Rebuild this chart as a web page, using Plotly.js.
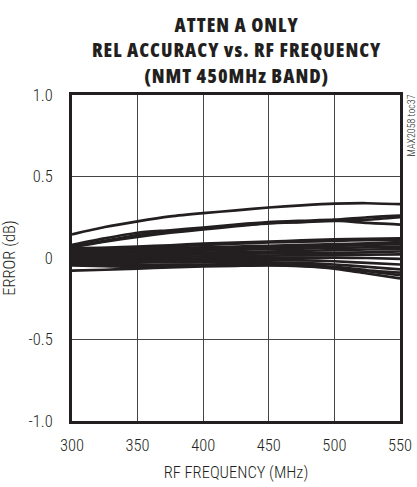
<!DOCTYPE html>
<html>
<head>
<meta charset="utf-8">
<script src="https://cdn.plot.ly/plotly-3.0.1.min.js"></script>
<style>html,body{margin:0;padding:0;background:#fff;}#chart{width:417px;height:487px;}
#chart text{font-stretch:condensed;}
#chart .annotation[data-index="0"] text{letter-spacing:1px;}</style>
</head>
<body>
<div id="chart"></div>
<script>
const freq = [300, 325, 350, 375, 400, 425, 450, 475, 500, 525, 550];

const top1 = [0.145, 0.19, 0.225, 0.255, 0.275, 0.292, 0.31, 0.323, 0.333, 0.336, 0.33];
const top2 = [0.08, 0.12, 0.155, 0.17, 0.187, 0.205, 0.22, 0.228, 0.235, 0.25, 0.26];
const top3 = [0.07, 0.105, 0.14, 0.16, 0.18, 0.2, 0.215, 0.222, 0.23, 0.215, 0.205];
const top4 = [0.065, 0.1, 0.13, 0.155, 0.175, 0.195, 0.212, 0.22, 0.228, 0.235, 0.25];
const mid1 = [0.06, 0.063, 0.07, 0.078, 0.088, 0.095, 0.1, 0.108, 0.115, 0.118, 0.12];
const mid2 = [0.055, 0.06, 0.065, 0.072, 0.08, 0.088, 0.095, 0.1, 0.105, 0.11, 0.113];
const band1 = [0.05, 0.055, 0.06, 0.062, 0.065, 0.07, 0.075, 0.08, 0.085, 0.09, 0.097];
const band2 = [0.04, 0.045, 0.05, 0.053, 0.056, 0.06, 0.065, 0.07, 0.075, 0.08, 0.085];
const band3 = [0.03, 0.035, 0.038, 0.042, 0.045, 0.05, 0.055, 0.058, 0.062, 0.066, 0.07];
const band4 = [0.02, 0.025, 0.028, 0.03, 0.033, 0.036, 0.04, 0.044, 0.048, 0.052, 0.055];
const band5 = [0.01, 0.013, 0.016, 0.02, 0.022, 0.025, 0.028, 0.03, 0.032, 0.035, 0.04];
const band6 = [0.0, 0.003, 0.005, 0.008, 0.01, 0.012, 0.015, 0.016, 0.018, 0.02, 0.022];
const band7 = [-0.01, -0.008, -0.006, -0.004, -0.002, 0.0, 0.002, 0.003, 0.002, 0.0, -0.005];
const band8 = [-0.02, -0.018, -0.016, -0.015, -0.013, -0.012, -0.012, -0.014, -0.02, -0.03, -0.04];
const band9 = [-0.03, -0.03, -0.028, -0.027, -0.026, -0.025, -0.026, -0.03, -0.04, -0.055, -0.07];
const band10 = [-0.04, -0.042, -0.045, -0.042, -0.04, -0.038, -0.038, -0.042, -0.055, -0.075, -0.09];
const band11 = [-0.045, -0.05, -0.055, -0.05, -0.045, -0.042, -0.042, -0.048, -0.06, -0.08, -0.105];
const low1 = [-0.078, -0.072, -0.065, -0.058, -0.052, -0.048, -0.045, -0.05, -0.065, -0.095, -0.125];

const series = [top1, top2, top3, top4, mid1, mid2, band1, band2, band3, band4, band5, band6,
                band7, band8, band9, band10, band11, low1];

const yTickVals = [-1, -0.5, 0, 0.5, 1];
const yTickText = ['-1.0', '-0.5', '0', '0.5', '1.0'];
const xTickVals = [300, 350, 400, 450, 500, 550];
const titleLines = ['ATTEN A ONLY', 'REL ACCURACY vs. RF FREQUENCY', '(NMT 450MHz BAND)'];

const FONT = '"Roboto Condensed", "Roboto", "DejaVu Sans Condensed", sans-serif';
const TFONT = '"Open Sans", "Roboto Condensed", sans-serif';

const traces = series.map(s => ({
  x: freq, y: s, type: 'scatter', mode: 'lines',
  line: {color: '#231f20', width: 2.7, shape: 'spline', smoothing: 0.6},
  hoverinfo: 'skip', showlegend: false
}));

const layout = {
  width: 417, height: 487,
  margin: {l: 72, r: 17, t: 95, b: 66},
  paper_bgcolor: '#fff', plot_bgcolor: '#fff',
  font: {family: FONT, color: '#231f20', size: 16.5},
  xaxis: {
    range: [300, 550], tickvals: xTickVals, ticks: '', ticklabelstandoff: 7,
    showgrid: true, gridcolor: '#444', gridwidth: 1,
    showline: true, mirror: true, linecolor: '#231f20', linewidth: 3,
    zeroline: false, tickfont: {family: FONT, size: 16.5, weight: 300},
    title: {text: 'RF FREQUENCY (MHz)', font: {family: FONT, size: 16.5, weight: 300}, standoff: 13}
  },
  yaxis: {
    range: [-1, 1], tickvals: yTickVals, ticktext: yTickText, ticks: '', ticklabelstandoff: 13,
    showgrid: true, gridcolor: '#444', gridwidth: 1,
    showline: true, mirror: true, linecolor: '#231f20', linewidth: 3,
    zeroline: true, zerolinecolor: '#231f20', zerolinewidth: 1,
    tickfont: {family: FONT, size: 16.5, weight: 300},
    title: {text: 'ERROR (dB)', font: {family: FONT, size: 16.5, weight: 300}, standoff: 12}
  },
  annotations: [{
    text: titleLines.join('<br>'), xref: 'paper', yref: 'paper', x: 0.5, y: (421 - 50) / 326,
    xanchor: 'center', yanchor: 'middle', showarrow: false,
    font: {family: TFONT, size: 19.5, weight: 800, color: '#231f20'}
  }, {
    text: 'MAX2058 toc37', xref: 'paper', yref: 'paper', x: 1.0, y: 1.0,
    xanchor: 'left', yanchor: 'top', xshift: 3, yshift: 2, textangle: -90, showarrow: false,
    font: {family: FONT, size: 10, weight: 300, color: '#231f20'}
  }]
};

Plotly.newPlot('chart', traces, layout, {displayModeBar: false, staticPlot: true});
</script>
</body>
</html>
